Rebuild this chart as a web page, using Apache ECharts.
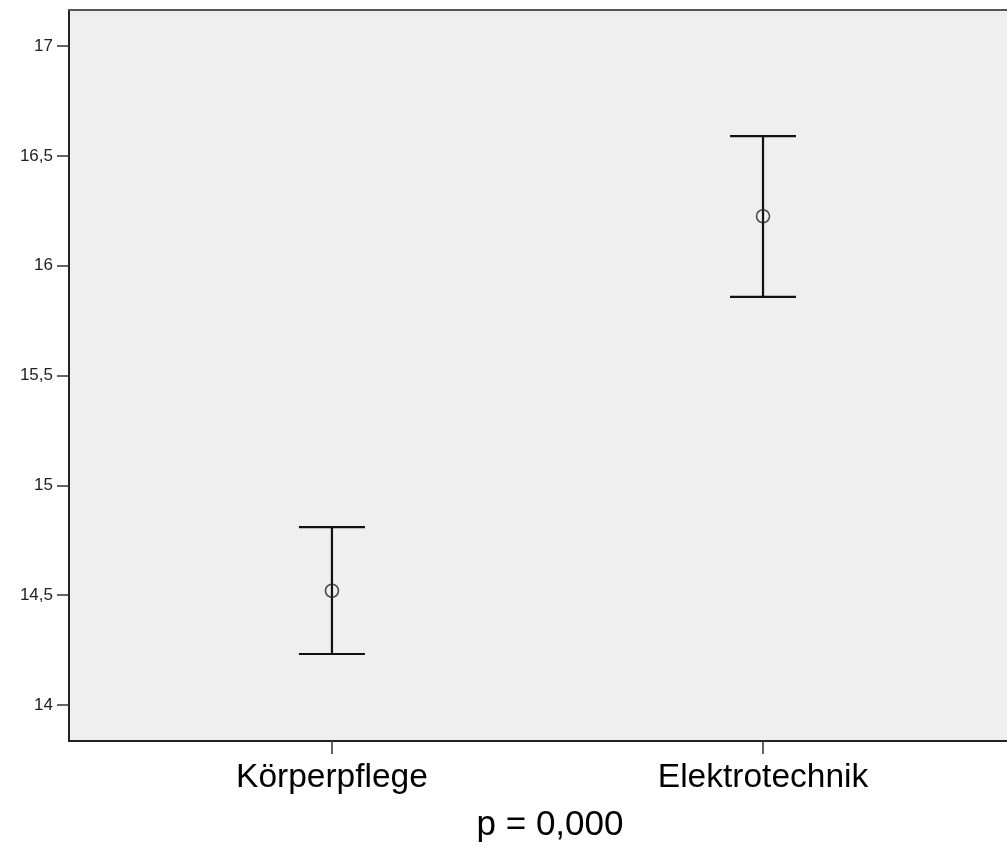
<!DOCTYPE html>
<html>
<head>
<meta charset="utf-8">
<script src="https://cdn.jsdelivr.net/npm/echarts@6/dist/echarts.min.js"></script>
<style>
  html, body { margin: 0; padding: 0; background: #fff; }
  #show { width: 1007px; height: 847px; }
</style>
</head>
<body>
<div id="show"></div>
<script>
var myChart = echarts.init(document.getElementById("show"));

// groups and their means with lower / upper CI bounds
var categories = ["Körperpflege", "Elektrotechnik"];
var means = [14.52, 16.225];
var lower = [14.232, 15.858];
var upper = [14.81, 16.59];
var yTicks = [14, 14.5, 15, 15.5, 16, 16.5, 17];
var pText = "p = 0,000";

var barData = categories.map(function (c, i) {
    return [i + 1, lower[i], upper[i]];
});
var meanData = categories.map(function (c, i) {
    return [i + 1, means[i]];
});

var font = "'Liberation Sans', Arial, sans-serif";

myChart.setOption(option = {
    animation: false,
    backgroundColor: '#ffffff',
    title: {
        text: pText,
        left: 550,
        top: 808,
        padding: 0,
        textAlign: 'center',
        textStyle: {fontSize: 35, fontWeight: 'normal', fontFamily: font, color: '#000'}
    },
    grid: {
        left: 69,
        top: 10,
        bottom: 106,
        right: 0,
        show: true,
        backgroundColor: '#efefef',
        borderWidth: 0
    },
    xAxis: [{
        type: 'value',
        min: 0.39,
        max: 2.566,
        splitLine: {show: false},
        axisLine: {lineStyle: {color: '#222', width: 2}},
        axisTick: {
            customValues: [1, 2],
            length: 13,
            lineStyle: {color: '#333', width: 1.5}
        },
        axisLabel: {
            customValues: [1, 2],
            formatter: function (v) { return categories[Math.round(v) - 1]; },
            fontSize: 33.5,
            fontFamily: font,
            color: '#000',
            margin: 20
        }
    }, {
        // top frame line
        type: 'value',
        position: 'top',
        min: 0.39,
        max: 2.566,
        splitLine: {show: false},
        axisLine: {show: true, lineStyle: {color: '#555', width: 2}},
        axisTick: {show: false},
        axisLabel: {show: false}
    }],
    yAxis: {
        type: 'value',
        min: 13.836,
        max: 17.164,
        splitLine: {show: false},
        axisLine: {show: true, lineStyle: {color: '#222', width: 2}},
        axisTick: {
            show: true,
            customValues: yTicks,
            length: 12,
            lineStyle: {color: '#333', width: 1.5}
        },
        axisLabel: {
            customValues: yTicks,
            formatter: function (v) { return String(v).replace('.', ','); },
            fontSize: 17,
            fontFamily: font,
            color: '#222',
            margin: 16
        }
    },
    series: [
        {
            type: 'custom',
            data: barData,
            encode: {x: 0, y: [1, 2]},
            renderItem: function (params, api) {
                var x = api.value(0);
                var lo = api.coord([x, api.value(1)]);
                var hi = api.coord([x, api.value(2)]);
                var w = 33;
                var st = {stroke: '#111', lineWidth: 2.2};
                return {
                    type: 'group',
                    children: [
                        {type: 'line', shape: {x1: lo[0], y1: lo[1], x2: hi[0], y2: hi[1]}, style: st},
                        {type: 'line', shape: {x1: hi[0] - w, y1: hi[1], x2: hi[0] + w, y2: hi[1]}, style: st},
                        {type: 'line', shape: {x1: lo[0] - w, y1: lo[1], x2: lo[0] + w, y2: lo[1]}, style: st}
                    ]
                };
            }
        },
        {
            type: 'scatter',
            data: meanData,
            symbol: 'circle',
            symbolSize: 13,
            z: 5,
            itemStyle: {color: 'rgba(0,0,0,0)', borderColor: '#222', borderWidth: 1.6}
        }
    ]
});
</script>
</body>
</html>
